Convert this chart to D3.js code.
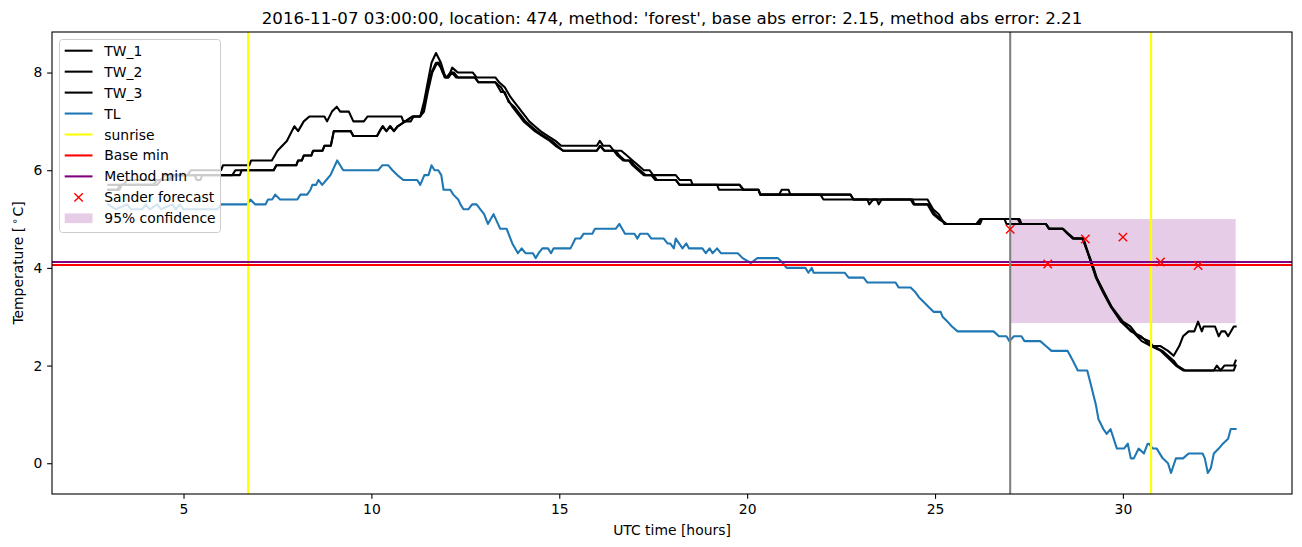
<!DOCTYPE html>
<html><head><meta charset="utf-8">
<script src="https://cdn.jsdelivr.net/npm/d3@7"></script>
<style>body{margin:0;background:#fff} svg{display:block} text{font-family:"DejaVu Sans",sans-serif}</style>
</head><body>
<svg id="c" width="1302" height="547"></svg>
<script>
// ---------- data ----------
const titleText = "2016-11-07 03:00:00, location: 474, method: 'forest', base abs error: 2.15, method abs error: 2.21";
const xTicks = [5, 10, 15, 20, 25, 30];
const yTicks = [0, 2, 4, 6, 8];

const tw1 = [[3.0,5.7],[3.4,5.7],[3.5,5.8],[4.4,5.8],[4.5,5.9],[5.1,5.9],[5.2,6.0],[6.0,6.0],[6.05,6.1],[6.75,6.1],[6.8,6.2],[7.35,6.2],[7.5,6.4],[7.75,6.6],[7.95,6.9],[8.05,6.8],[8.2,7.0],[8.35,7.1],[8.75,7.1],[8.82,7.0],[8.95,7.2],[9.08,7.3],[9.17,7.2],[9.4,7.2],[9.52,7.0],[9.8,7.0],[9.9,7.1],[10.8,7.1],[10.85,7.0],[11.05,7.0],[11.12,7.1],[11.3,7.1],[11.4,7.4],[11.5,7.8],[11.6,8.2],[11.72,8.4],[11.85,8.2],[11.97,7.9],[12.05,7.9],[12.15,8.1],[12.3,8.0],[12.7,8.0],[12.8,7.9],[13.3,7.9],[13.4,7.8],[13.55,7.7],[13.7,7.5],[13.8,7.4],[13.9,7.3],[14.0,7.2],[14.1,7.1],[14.2,7.0],[14.35,6.9],[14.5,6.8],[14.7,6.7],[14.9,6.6],[15.05,6.5],[16.0,6.5],[16.08,6.6],[16.17,6.5],[16.35,6.5],[16.45,6.4],[16.65,6.4],[16.8,6.3],[16.95,6.2],[17.1,6.1],[17.25,6.0],[17.4,6.0],[17.5,5.9],[18.1,5.9],[18.2,5.8],[18.5,5.8],[18.55,5.7],[19.8,5.7],[19.9,5.6],[20.3,5.6],[20.35,5.5],[20.85,5.5],[20.92,5.6],[21.1,5.6],[21.15,5.5],[22.75,5.5],[22.83,5.4],[24.8,5.4],[24.95,5.2],[25.1,5.1],[25.25,4.9],[26.1,4.9],[26.2,5.0],[27.2,5.0],[27.28,4.9],[27.95,4.9],[28.03,4.8],[28.4,4.8],[28.53,4.7],[28.67,4.6],[28.93,4.6],[29.07,4.3],[29.2,4.0],[29.28,3.8],[29.47,3.5],[29.68,3.2],[29.95,2.9],[30.21,2.7],[30.48,2.6],[30.75,2.4],[31.01,2.3],[31.28,2.1],[31.41,2.0],[31.6,1.9],[32.42,1.9],[32.5,2.0],[32.6,1.9],[32.7,2.0],[32.95,2.0],[33.0,2.1]];

const tw2 = [[3.0,5.6],[3.3,5.6],[3.35,5.7],[4.3,5.7],[4.4,5.8],[4.6,5.8],[4.7,5.9],[5.3,5.9],[5.35,5.8],[5.45,5.8],[5.5,5.9],[6.5,5.9],[6.55,6.0],[7.4,6.0],[7.47,6.1],[8.0,6.1],[8.05,6.2],[8.15,6.2],[8.2,6.3],[8.4,6.3],[8.45,6.4],[8.7,6.4],[8.75,6.5],[8.92,6.5],[9.0,6.8],[9.45,6.8],[9.52,6.7],[10.15,6.7],[10.22,6.8],[10.3,6.9],[10.4,6.8],[10.5,6.9],[10.6,6.8],[10.7,6.9],[10.9,7.0],[11.1,7.1],[11.3,7.1],[11.4,7.3],[11.5,7.7],[11.6,8.0],[11.72,8.2],[11.8,8.2],[11.9,8.0],[12.0,7.9],[12.1,8.0],[12.2,8.0],[12.3,7.9],[12.75,7.9],[12.85,7.8],[13.3,7.8],[13.45,7.6],[13.55,7.6],[13.65,7.4],[13.8,7.3],[13.9,7.2],[14.0,7.1],[14.1,7.0],[14.25,6.9],[14.4,6.8],[14.6,6.7],[14.8,6.6],[14.95,6.5],[15.1,6.4],[16.0,6.4],[16.1,6.5],[16.2,6.4],[16.5,6.4],[16.6,6.3],[16.75,6.2],[16.9,6.2],[17.0,6.1],[17.15,6.0],[17.3,5.9],[17.5,5.9],[17.6,5.8],[18.1,5.8],[18.2,5.7],[19.2,5.7],[19.25,5.6],[19.9,5.6],[20.3,5.6],[20.35,5.5],[21.95,5.5],[22.03,5.4],[23.2,5.4],[23.25,5.3],[23.35,5.4],[23.45,5.4],[23.5,5.3],[23.58,5.4],[24.35,5.4],[24.43,5.3],[24.8,5.3],[24.95,5.1],[25.1,5.0],[25.3,4.9],[26.15,4.9],[26.22,5.0],[26.85,5.0],[26.9,4.9],[27.95,4.9],[28.05,4.8],[28.4,4.8],[28.55,4.7],[28.7,4.6],[28.95,4.6],[29.08,4.3],[29.22,4.0],[29.3,3.8],[29.5,3.5],[29.7,3.2],[29.9,3.0],[30.0,2.9],[30.2,2.8],[30.4,2.6],[30.7,2.5],[30.8,2.4],[31.05,2.3],[31.2,2.2],[31.35,2.1],[31.45,2.0],[31.65,1.9],[32.95,1.9],[33.0,2.0]];

const tw3 = [[3.0,5.6],[3.25,5.6],[3.3,5.7],[4.2,5.7],[4.3,5.8],[4.65,5.8],[4.75,5.9],[6.3,5.9],[6.38,6.0],[7.4,6.0],[7.47,6.1],[8.0,6.1],[8.05,6.2],[8.15,6.2],[8.2,6.3],[8.4,6.3],[8.45,6.4],[8.7,6.4],[8.75,6.5],[8.92,6.5],[9.0,6.8],[9.45,6.8],[9.52,6.7],[10.15,6.7],[10.22,6.8],[10.3,6.9],[10.4,6.8],[10.5,6.9],[10.6,6.8],[10.7,6.9],[10.9,7.0],[11.1,7.1],[11.3,7.1],[11.4,7.2],[11.5,7.6],[11.62,8.0],[11.75,8.2],[11.85,8.1],[11.95,7.9],[12.05,7.9],[12.15,8.0],[12.25,7.9],[12.75,7.9],[12.85,7.8],[13.3,7.8],[13.45,7.7],[13.6,7.5],[13.75,7.3],[13.85,7.2],[13.95,7.1],[14.05,7.0],[14.2,6.9],[14.35,6.8],[14.55,6.7],[14.75,6.6],[14.9,6.5],[15.1,6.4],[16.0,6.4],[16.08,6.5],[16.2,6.4],[16.45,6.4],[16.55,6.3],[16.7,6.2],[16.85,6.2],[16.95,6.1],[17.1,6.0],[17.25,5.9],[17.45,5.9],[17.55,5.8],[18.1,5.8],[18.2,5.7],[19.8,5.7],[19.9,5.6],[20.3,5.6],[20.35,5.5],[22.75,5.5],[22.83,5.4],[24.4,5.4],[24.45,5.3],[24.85,5.3],[25.0,5.1],[25.15,5.0],[25.3,4.9],[26.2,4.9],[26.25,5.0],[27.25,5.0],[27.3,4.9],[27.95,4.9],[28.03,4.8],[28.4,4.8],[28.53,4.7],[28.67,4.6],[28.93,4.6],[29.07,4.3],[29.2,4.0],[29.3,3.8],[29.48,3.5],[29.7,3.2],[29.95,2.9],[30.25,2.7],[30.5,2.5],[30.75,2.4],[31.0,2.4],[31.2,2.3],[31.35,2.2],[31.5,2.4],[31.6,2.6],[31.75,2.7],[31.9,2.7],[32.0,2.9],[32.1,2.7],[32.15,2.8],[32.45,2.8],[32.55,2.6],[32.62,2.7],[32.72,2.7],[32.8,2.6],[32.95,2.8],[33.0,2.8]];

const tl = [[3.0,5.3],[3.2,5.2],[3.5,5.3],[3.6,5.2],[3.9,5.2],[4.0,5.3],[4.1,5.2],[4.3,5.3],[4.4,5.2],[4.7,5.3],[4.8,5.2],[4.9,5.3],[5.0,5.2],[5.9,5.2],[6.0,5.3],[6.69,5.3],[6.78,5.4],[6.91,5.3],[7.18,5.3],[7.25,5.4],[7.36,5.4],[7.44,5.5],[7.57,5.4],[8.03,5.4],[8.11,5.5],[8.29,5.5],[8.38,5.6],[8.43,5.7],[8.53,5.7],[8.59,5.8],[8.69,5.7],[8.8,5.8],[8.91,5.9],[9.09,6.2],[9.25,6.0],[10.18,6.0],[10.29,6.1],[10.45,6.1],[10.56,6.0],[10.69,5.9],[10.85,5.8],[11.22,5.8],[11.3,5.7],[11.41,5.9],[11.52,5.9],[11.6,6.1],[11.68,6.0],[11.78,6.0],[11.86,5.9],[11.92,5.6],[12.1,5.6],[12.18,5.5],[12.31,5.4],[12.37,5.3],[12.45,5.2],[12.58,5.2],[12.68,5.3],[12.8,5.3],[12.9,5.2],[13.0,5.1],[13.1,4.9],[13.25,5.1],[13.43,4.8],[13.6,4.8],[13.75,4.5],[13.9,4.3],[14.0,4.4],[14.1,4.3],[14.3,4.3],[14.37,4.2],[14.45,4.3],[14.55,4.4],[14.7,4.4],[14.78,4.3],[14.85,4.4],[15.3,4.4],[15.43,4.6],[15.56,4.6],[15.65,4.7],[15.88,4.7],[15.95,4.8],[16.5,4.8],[16.6,4.9],[16.75,4.7],[17.0,4.7],[17.08,4.6],[17.15,4.7],[17.35,4.7],[17.45,4.6],[17.78,4.6],[17.88,4.5],[17.95,4.5],[18.05,4.4],[18.1,4.6],[18.28,4.4],[18.38,4.5],[18.45,4.4],[18.81,4.4],[18.9,4.3],[19.0,4.4],[19.08,4.3],[19.2,4.4],[19.3,4.3],[19.75,4.3],[19.88,4.2],[20.1,4.1],[20.27,4.2],[20.82,4.2],[20.95,4.1],[21.05,4.0],[21.55,4.0],[21.63,3.9],[21.72,4.0],[21.77,3.9],[22.6,3.9],[22.7,3.8],[23.1,3.8],[23.2,3.7],[23.95,3.7],[24.03,3.6],[24.35,3.6],[24.48,3.5],[24.57,3.4],[24.7,3.3],[24.83,3.2],[24.96,3.1],[25.15,3.1],[25.2,3.0],[25.33,2.9],[25.45,2.8],[25.6,2.7],[26.56,2.7],[26.7,2.6],[26.9,2.6],[26.98,2.5],[27.1,2.6],[27.3,2.6],[27.38,2.5],[27.8,2.5],[27.95,2.4],[28.1,2.3],[28.53,2.3],[28.67,2.1],[28.8,1.9],[29.05,1.9],[29.15,1.6],[29.28,1.2],[29.35,0.9],[29.48,0.7],[29.57,0.6],[29.67,0.7],[29.84,0.3],[30.03,0.3],[30.13,0.4],[30.21,0.1],[30.29,0.1],[30.42,0.3],[30.56,0.2],[30.66,0.4],[30.69,0.4],[30.8,0.3],[30.9,0.3],[31.06,0.1],[31.2,0.0],[31.28,-0.2],[31.41,0.1],[31.6,0.1],[31.75,0.2],[32.12,0.2],[32.18,0.1],[32.26,-0.2],[32.34,-0.1],[32.42,0.2],[32.55,0.3],[32.66,0.4],[32.8,0.5],[32.87,0.7],[33.0,0.7]];

const sunriseTimes = [6.72, 30.75];
const forecastStart = 27;
const baseMin = 4.06;
const methodMin = 4.12;
const forecastT = [27, 28, 29, 30, 31, 32];
const forecastV = [4.79, 4.08, 4.59, 4.63, 4.12, 4.05];
const confT = [27, 33];
const confLow = 2.87;
const confHigh = 5.0;
const legendLabels = ["TW_1","TW_2","TW_3","TL","sunrise","Base min","Method min","Sander forecast","95% confidence"];

// ---------- layout ----------
const L = 52, R = 1292, T = 32, B = 494;
const FS = 13.9;
const svg = d3.select('#c');

const all = [...tw1, ...tw2, ...tw3, ...tl];
const [x0, x1] = d3.extent(all, d => d[0]);
const [y0, y1] = d3.extent(all, d => d[1]);
const mx = (x1 - x0) * 0.05, my = (y1 - y0) * 0.05;
const x = d3.scaleLinear().domain([x0 - mx, x1 + mx]).range([L, R]);
const y = d3.scaleLinear().domain([y0 - my, y1 + my]).range([B, T]);

svg.append('defs').append('clipPath').attr('id', 'clip')
  .append('rect').attr('x', L).attr('y', T).attr('width', R - L).attr('height', B - T);

const plot = svg.append('g').attr('clip-path', 'url(#clip)');

// confidence band (zorder 1)
plot.append('rect')
  .attr('x', x(confT[0])).attr('width', x(confT[1]) - x(confT[0]))
  .attr('y', y(confHigh)).attr('height', y(confLow) - y(confHigh))
  .attr('fill', '#800080').attr('fill-opacity', 0.2);

const line = d3.line().x(d => x(d[0])).y(d => y(d[1]));
const lineStyle = (sel, color) => sel.attr('fill', 'none').attr('stroke', color)
  .attr('stroke-width', 2.08).attr('stroke-linejoin', 'round').attr('stroke-linecap', 'square');

[tw1, tw2, tw3].forEach(s => plot.append('path').datum(s).attr('d', line).call(lineStyle, '#000'));
plot.append('path').datum(tl).attr('d', line).call(lineStyle, '#1f77b4');

sunriseTimes.forEach(t => plot.append('line')
  .attr('x1', x(t)).attr('x2', x(t)).attr('y1', T).attr('y2', B)
  .attr('stroke', '#ffff00').attr('stroke-width', 2.08));
plot.append('line').attr('x1', L).attr('x2', R).attr('y1', y(baseMin)).attr('y2', y(baseMin))
  .attr('stroke', '#ff0000').attr('stroke-width', 2.08);
plot.append('line').attr('x1', L).attr('x2', R).attr('y1', y(methodMin)).attr('y2', y(methodMin))
  .attr('stroke', '#800080').attr('stroke-width', 2.08);
plot.append('line').attr('x1', x(forecastStart)).attr('x2', x(forecastStart)).attr('y1', T).attr('y2', B)
  .attr('stroke', '#808080').attr('stroke-width', 2.08);

const xMark = (cx, cy, r) => `M${cx - r},${cy - r}L${cx + r},${cy + r}M${cx - r},${cy + r}L${cx + r},${cy - r}`;
plot.selectAll('.fc').data(forecastT).enter().append('path')
  .attr('d', (t, i) => xMark(x(t), y(forecastV[i]), 4.2))
  .attr('stroke', '#ff0000').attr('stroke-width', 1.4).attr('fill', 'none');

// ---------- axes ----------
const gx = svg.append('g').attr('transform', `translate(0,${B})`)
  .call(d3.axisBottom(x).tickValues(xTicks).tickSize(4.86).tickPadding(5.6).tickFormat(d3.format('d')));
const gy = svg.append('g').attr('transform', `translate(${L},0)`)
  .call(d3.axisLeft(y).tickValues(yTicks).tickSize(4.86).tickPadding(4.9).tickFormat(d3.format('d')));
[gx, gy].forEach(g => {
  g.select('.domain').remove();
  g.attr('font-family', null).attr('font-size', null);
  g.selectAll('line').attr('stroke', '#000').attr('stroke-width', 1.1);
  g.selectAll('text').attr('font-size', FS).attr('fill', '#000').attr('font-family', '"DejaVu Sans"');
});

svg.append('rect').attr('x', L).attr('y', T).attr('width', R - L).attr('height', B - T)
  .attr('fill', 'none').attr('stroke', '#000').attr('stroke-width', 1.1);

svg.append('text').attr('x', (L + R) / 2).attr('y', 24).attr('text-anchor', 'middle')
  .attr('font-size', 16.67).attr('fill', '#000').text(titleText);
svg.append('text').attr('x', (L + R) / 2).attr('y', 535).attr('text-anchor', 'middle')
  .attr('font-size', FS).attr('fill', '#000').text('UTC time [hours]');
const yl = svg.append('text').attr('transform', `translate(22.5,${(T + B) / 2}) rotate(-90)`)
  .attr('text-anchor', 'middle').attr('font-size', FS).attr('fill', '#000');
yl.append('tspan').text('Temperature [');
yl.append('tspan').attr('dx', 2.5).attr('dy', -5).attr('font-size', 10).text('\u2218');
yl.append('tspan').attr('dx', 1.5).attr('dy', 5).text('C]');

// ---------- legend ----------
const lg = svg.append('g');
lg.append('rect').attr('x', 59.5).attr('y', 39.5).attr('width', 161).attr('height', 193)
  .attr('rx', 3).attr('fill', '#fff').attr('fill-opacity', 0.8).attr('stroke', '#cccccc').attr('stroke-width', 1);
const legendColors = ['#000', '#000', '#000', '#1f77b4', '#ffff00', '#ff0000', '#800080'];
legendLabels.forEach((lab, i) => {
  const cy = 50.7 + i * 20.95;
  if (i < 7) {
    lg.append('line').attr('x1', 64.7).attr('x2', 92.5).attr('y1', cy).attr('y2', cy)
      .attr('stroke', legendColors[i]).attr('stroke-width', 2.08);
  } else if (i === 7) {
    lg.append('path').attr('d', xMark(78.6, cy, 4.2)).attr('stroke', '#ff0000').attr('stroke-width', 1.4);
  } else {
    lg.append('rect').attr('x', 64.7).attr('y', cy - 4.9).attr('width', 27.8).attr('height', 9.7)
      .attr('fill', '#800080').attr('fill-opacity', 0.2);
  }
  lg.append('text').attr('x', 104.3).attr('y', cy + 5).attr('font-size', FS).attr('fill', '#000').text(lab);
});
</script>
</body></html>
